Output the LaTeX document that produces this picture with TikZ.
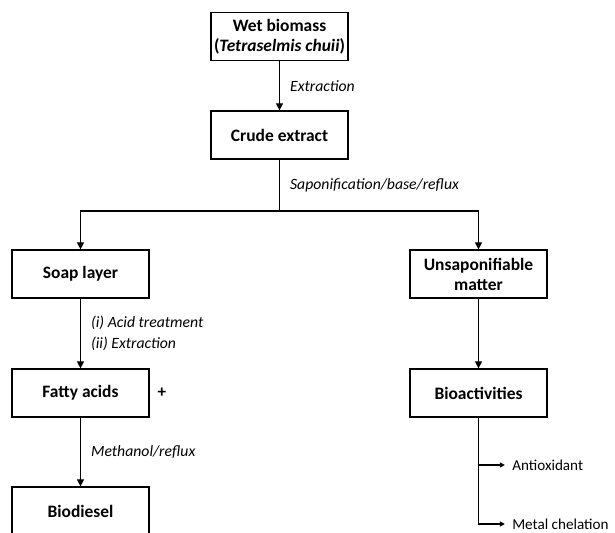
\documentclass[tikz,border=0pt]{standalone}
\usepackage{fontspec}
\setmainfont{Carlito}
\usetikzlibrary{arrows.meta, positioning}

\tikzset{
  stage/.style={draw, line width=0.85pt, minimum width=95.9pt, minimum height=33.6pt,
    align=center, inner sep=2pt, font=\fontsize{12.2}{14}\selectfont\bfseries},
  conn/.style={line width=0.85pt, -{Triangle[length=5pt,width=5pt]}},
  branch/.style={line width=0.85pt, -{Triangle[length=3.5pt,width=3.5pt]}},
  cond/.style={font=\fontsize{11}{15}\selectfont\itshape, align=left, inner xsep=7pt, inner ysep=1pt},
  result/.style={font=\fontsize{10.6}{13}\selectfont, inner sep=0pt, anchor=west}
}

\begin{document}
\begin{tikzpicture}[x=0.7pt, y=-0.7pt]
\useasboundingbox (0,0) rectangle (615,532);
%boxes
\node[stage] (wet) at (279.5,36.5) {Wet biomass\\(\textit{Tetraselmis chuii})};
\node[stage] (crude) at (279.5,135) {Crude extract};
\node[stage] (soap) at (80.5,274) {Soap layer};
\node[stage] (unsap) at (478.5,274) {Unsaponifiable\\matter};
\node[stage] (fatty) at (80.5,393) {Fatty acids};
\node[stage] (bioact) at (478.5,393) {Bioactivities};
\node[stage] (biodiesel) at (80.5,511) {Biodiesel};
\node[font=\fontsize{12}{14}\selectfont\bfseries] (plus) at (162,393) {+};
\coordinate (split) at (279.5,211);
%main line
\draw[conn] (wet) -- (crude) node[midway,right,cond] {Extraction};
\draw[line width=0.85pt] (crude) -- (split) node[midway,right,cond] {Saponification/base/reflux};
\draw[conn] (split) -| (soap);
\draw[conn] (split) -| (unsap);
%left side
\draw[conn] (soap) -- (fatty) node[midway,right,cond] {(i) Acid treatment\\(ii) Extraction};
\draw[conn] (fatty) -- (biodiesel) node[midway,right,cond] {Methanol/reflux};
%right side
\draw[conn] (unsap) -- (bioact);
\node[result] (anti) at (512,465) {Antioxidant};
\node[result] (metal) at (512,524) {Metal chelation};
\coordinate (fork) at (bioact.south |- anti);
\draw[branch] (bioact) |- ([xshift=-5pt]metal.west);
\draw[branch] (fork) -- ([xshift=-5pt]anti.west);
\end{tikzpicture}
\end{document}
